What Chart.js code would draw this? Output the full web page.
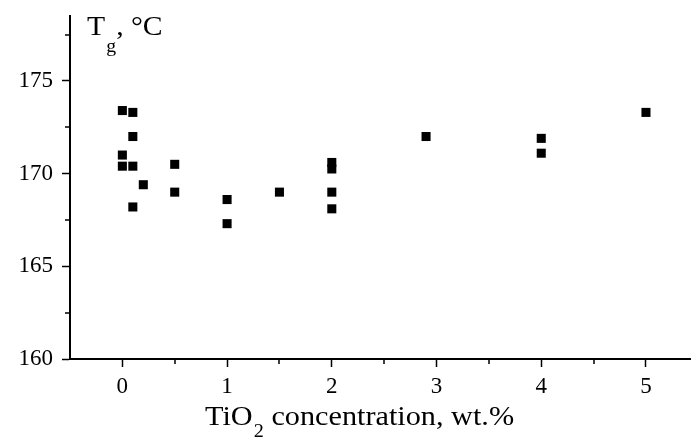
<!DOCTYPE html>
<html>
<head>
<meta charset="utf-8">
<script src="https://cdn.jsdelivr.net/npm/chart.js@4/dist/chart.umd.min.js"></script>
<style>
	html, body { margin: 0; padding: 0; background: #fff; overflow: hidden; }
	#wrap { width: 691px; height: 439px; }
</style>
</head>
<body>
<div id="wrap"><canvas id="c"></canvas></div>
<script>
// TiO2 content (wt.%) and measured glass transition temperature
const tio2 = [0, 0, 0, 0.1, 0.1, 0.1, 0.1, 0.2, 0.5, 0.5, 1, 1, 1.5, 2, 2, 2, 2, 2.9, 4, 4, 5];
const tg = [173.4, 171.0, 170.4, 173.3, 172.0, 170.4, 168.2, 169.4, 170.5, 169.0, 168.6, 167.3, 169.0, 170.6, 170.25, 169.0, 168.1, 172.0, 171.9, 171.1, 173.3];

const xMajor = [0, 1, 2, 3, 4, 5];
const xMinor = [0.5, 1.5, 2.5, 3.5, 4.5];
const yMajor = [160, 165, 170, 175];
const yMinor = [162.5, 167.5, 172.5, 177.5];

const serif = "'Liberation Serif', 'Times New Roman', serif";

// draws a run of [text, size, baselineShift, gap] pieces, stretched a little sideways like the original
function drawRich(ctx, parts, x, y, stretch) {
	ctx.save();
	ctx.translate(x, y);
	ctx.scale(stretch, 1);
	let cx = 0;
	parts.forEach(function (p) {
		ctx.font = p[1] + "px " + serif;
		ctx.fillText(p[0], cx, p[2]);
		cx += ctx.measureText(p[0]).width + (p[3] || 0);
	});
	ctx.restore();
}

// minor ticks + the two axis titles (with subscripts)
const extras = {
	id: "extras",
	afterDraw: function (chart) {
		const ctx = chart.ctx;
		const xs = chart.scales.x;
		const ys = chart.scales.y;
		ctx.save();
		ctx.strokeStyle = "#000";
		ctx.lineWidth = 1.5;
		ctx.beginPath();
		xMinor.forEach(function (v) {
			const px = Math.round(xs.getPixelForValue(v));
			ctx.moveTo(px, ys.bottom);
			ctx.lineTo(px, ys.bottom + 5);
		});
		yMinor.forEach(function (v) {
			const py = Math.round(ys.getPixelForValue(v));
			ctx.moveTo(xs.left, py);
			ctx.lineTo(xs.left - 5, py);
		});
		ctx.stroke();

		ctx.fillStyle = "#000";
		ctx.textBaseline = "alphabetic";
		ctx.textAlign = "left";
		drawRich(ctx, [["T", 27, 0, 1], ["g", 18, 17], [", \u00B0C", 27, 0]], 87, 35, 1.1);
		drawRich(ctx, [["TiO", 27, 0, 1], ["2", 18, 12], [" concentration, wt.%", 27, 0]], 205, 425, 1.12);
		ctx.restore();
	}
};

new Chart(document.getElementById("c"), {
	type: "scatter",
	data: {
		datasets: [
			{
				data: tio2.map(function (v, i) { return { x: v, y: tg[i] }; }),
				pointStyle: "rect",
				pointRadius: 6.4,
				pointHoverRadius: 6.4,
				backgroundColor: "#000",
				borderColor: "#000",
				borderWidth: 0
			}
		]
	},
	options: {
		responsive: true,
		maintainAspectRatio: false,
		animation: false,
		events: [],
		layout: { autoPadding: false, padding: { top: 16, right: 0, bottom: 0, left: 0 } },
		plugins: {
			legend: { display: false },
			tooltip: { enabled: false }
		},
		scales: {
			x: {
				type: "linear",
				min: -0.5,
				max: 5.43,
				afterBuildTicks: function (scale) {
					scale.ticks = xMajor.map(function (v) { return { value: v }; });
				},
				afterFit: function (scale) {
					scale.height = 80;
					scale.paddingLeft = 0;
					scale.paddingRight = 0;
				},
				border: { display: true, color: "#000", width: 2 },
				grid: { display: true, drawOnChartArea: false, drawTicks: true, tickLength: 8, tickColor: "#000", tickWidth: 1.5 },
				ticks: { color: "#000", font: { family: serif, size: 23 }, padding: 6, maxRotation: 0 }
			},
			y: {
				type: "linear",
				min: 160,
				max: 178.5,
				afterBuildTicks: function (scale) {
					scale.ticks = yMajor.map(function (v) { return { value: v }; });
				},
				afterFit: function (scale) {
					scale.width = 70;
					scale.paddingTop = 0;
					scale.paddingBottom = 0;
				},
				border: { display: true, color: "#000", width: 2 },
				grid: { display: true, drawOnChartArea: false, drawTicks: true, tickLength: 8, tickColor: "#000", tickWidth: 1.5 },
				ticks: { color: "#000", font: { family: serif, size: 23 }, padding: 9 }
			}
		}
	},
	plugins: [extras]
});
</script>
</body>
</html>
